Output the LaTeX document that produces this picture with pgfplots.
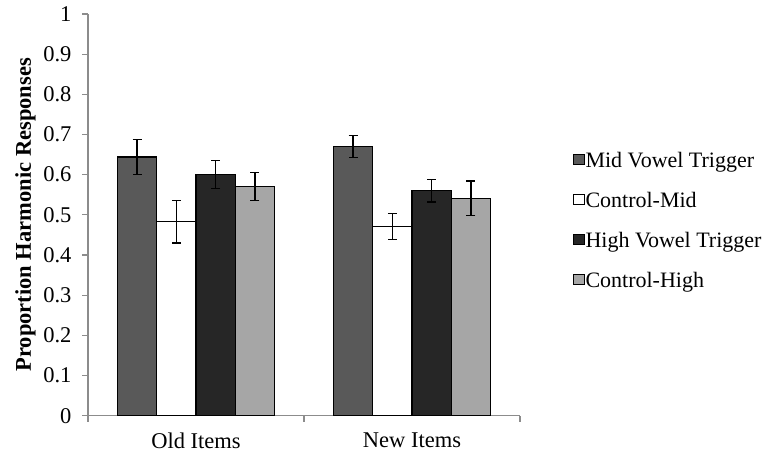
\documentclass[border=0pt]{standalone}
\usepackage{pgfplots}
\pgfplotsset{compat=1.18}
\usepackage{fontspec}
\setmainfont{Liberation Serif}
\definecolor{cmid}{HTML}{595959}
\definecolor{chigh}{HTML}{262626}
\definecolor{cctrl}{HTML}{A6A6A6}
\definecolor{axisgray}{HTML}{8C8C8C}
\pgfplotsset{
  sqlegend/.style={legend image code/.code={\draw[##1,draw=black,line width=0.8pt] (0.5pt,-2.5pt) rectangle (11pt,8pt);}},
  mybar/.style={ybar, bar width=0.182, bar shift=0pt, draw=black, line width=1.2pt,
    error bars/y dir=both, error bars/y explicit,
    error bars/error bar style={draw=black, line width=1.3pt},
    error bars/error mark options={rotate=90, mark size=4.5pt, line width=1.3pt, draw=black}}
}
\begin{document}
\begin{tikzpicture}
\path[use as bounding box] (0,0) rectangle (773pt,462pt);
\begin{axis}[
  at={(88pt,46.3pt)}, anchor=south west,
  scale only axis, width=432pt, height=401.7pt,
  xmin=0, xmax=2, ymin=0, ymax=1,
  axis lines*=left,
  axis line style={draw=axisgray, line width=1.3pt},
  xtick={0,1,2}, xticklabels={Old Items,New Items}, x tick label as interval,
  ytick={0,0.1,0.2,0.3,0.4,0.5,0.6,0.7,0.8,0.9,1},
  yticklabels={0,0.1,0.2,0.3,0.4,0.5,0.6,0.7,0.8,0.9,1},
  tick align=outside, major tick length=6pt,
  tick style={draw=axisgray, line width=1.3pt},
  ticklabel style={font=\fontsize{22.5}{26}\selectfont},
  yticklabel style={xshift=-7pt},
  xticklabel style={yshift=-8pt},
  ylabel={Proportion Harmonic Responses},
  ylabel style={font=\fontsize{22.5}{26}\selectfont\bfseries, at={(-0.145,0.5)}, anchor=center},
  legend style={draw=none, fill=none, at={(1.1227,0.659)}, anchor=north west,
    inner sep=0pt, row sep=18pt, font=\fontsize{22}{26}\selectfont,
    nodes={inner sep=1pt, text height=15pt, text depth=5pt}},
  legend cell align=left,
]
\addplot[mybar, fill=cmid, sqlegend] coordinates {(0.227,0.644) +- (0,0.044) (1.227,0.670) +- (0,0.027)};
\addlegendentry{Mid Vowel Trigger}
\addplot[mybar, fill=white, sqlegend] coordinates {(0.409,0.483) +- (0,0.053) (1.409,0.471) +- (0,0.032)};
\addlegendentry{Control-Mid}
\addplot[mybar, fill=chigh, sqlegend] coordinates {(0.591,0.600) +- (0,0.035) (1.591,0.560) +- (0,0.028)};
\addlegendentry{High Vowel Trigger}
\addplot[mybar, fill=cctrl, sqlegend] coordinates {(0.773,0.570) +- (0,0.035) (1.773,0.541) +- (0,0.043)};
\addlegendentry{Control-High}
\end{axis}
\end{tikzpicture}
\end{document}
